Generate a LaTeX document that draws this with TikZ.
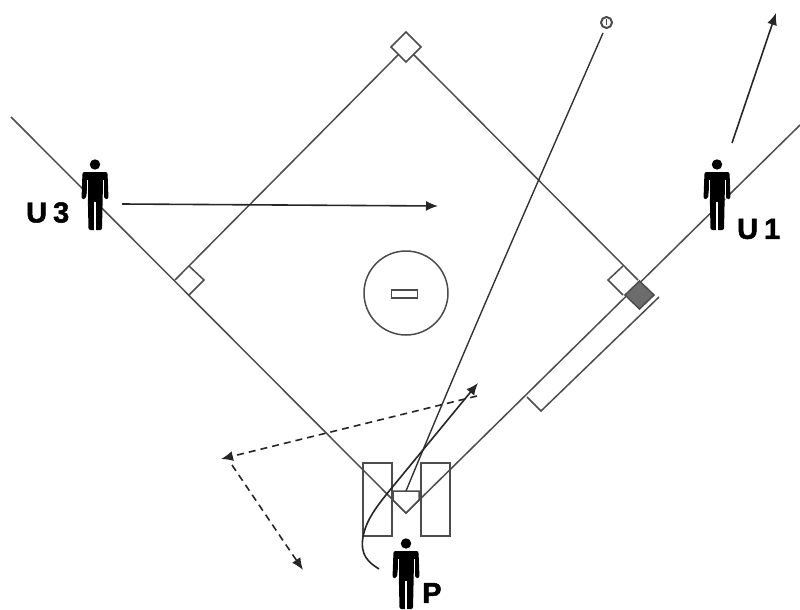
\documentclass[tikz,border=0pt]{standalone}
\usepackage{fontspec}
\setmainfont[BoldFeatures={FakeBold=1.6}]{Liberation Sans}
\usetikzlibrary{arrows.meta}
\definecolor{fieldc}{gray}{0.3}
\tikzset{
  fieldline/.style={draw=fieldc,line width=1.5pt},
  baseshape/.style={fieldline,fill=white,line join=miter},
  runarrow/.style={draw=black!85,line width=1.6pt,-{Latex[length=12pt,width=10pt]}},
  dasharrow/.style={runarrow,dash pattern=on 7pt off 5pt},
  balltrack/.style={draw=black!80,line width=1.4pt},
  lab/.style={inner sep=0pt,font=\fontsize{29}{29}\selectfont\bfseries},
  person/.pic={
    \fill[black] (0,4.5) circle (5.2);
    \fill[black,rounded corners=2pt] (-12.5,12) -- (12.5,12) -- (13.5,39) -- (9,39) -- (8,22) -- (7,70) -- (-6.5,70) -- (-7.5,22) -- (-9,39) -- (-13.5,39) -- cycle;
    \fill[white] (-0.8,42) rectangle (0.8,70.5);
    \draw[white,line width=0.7pt] (-8,20) -- (-8,39) (8,20) -- (8,39);
  }
}
\begin{document}
\begin{tikzpicture}[x=1pt,y=-1pt]
\useasboundingbox (0,0) rectangle (800,610);
\fill[white] (0,0) rectangle (800,610);
% key points
\coordinate (home) at (406,513);
\coordinate (lfend) at (11,117);
\coordinate (rfend) at (800,125);
\coordinate (secondL) at (398.5,54.5);
\coordinate (secondR) at (413.5,54.5);
\coordinate (firstE) at (638,280);
\coordinate (thirdW) at (175,280);
% diamond
\draw[fieldline] (lfend) -- (home) -- (rfend);
\draw[fieldline] (thirdW) -- (secondL);
\draw[fieldline] (secondR) -- (firstE);
% lane
\draw[fieldline] (527,397) -- (541,411) -- (659,297);
% bases
\draw[baseshape] (406,32) -- (421,47) -- (406,62) -- (391,47) -- cycle;
\draw[fieldline] (189,266) -- (204,280) -- (189,295);
\draw[fieldline] (623,266) -- (608,280) -- (623,295);
\draw[fieldline,fill=gray!85!black] (639.5,281) -- (654,295) -- (639.5,309) -- (625,295) -- cycle;
% mound
\node[draw=fieldc,line width=1.5pt,circle,minimum size=84pt,inner sep=0pt] (mound) at (406,293) {};
\node[draw=fieldc,line width=1.5pt,minimum width=26pt,minimum height=8pt,inner sep=0pt] (rubber) at (404.5,294) {};
% batter boxes
\node[draw=fieldc,line width=1.5pt,minimum width=29pt,minimum height=73pt,inner sep=0pt] (lbox) at (377.5,499.5) {};
\node[draw=fieldc,line width=1.5pt,minimum width=29pt,minimum height=73pt,inner sep=0pt] (rbox) at (435.5,499.5) {};
% home plate
\draw[baseshape,fill=white] (393,491) -- (419,491) -- (419,500) -- (406,513) -- (393,500) -- cycle;
% ball
\node[draw=fieldc,line width=2pt,circle,minimum size=11pt,inner sep=0pt] (ball) at (606.5,22.5) {};
\draw[fieldc,line width=1.2pt] (606.5,19.5) -- (606.5,25.5);
% ball track
\coordinate (fromhome) at (406,491);
\coordinate (balltip) at (603,33);
\draw[balltrack] (fromhome) .. controls (469,338) and (536,186) .. (balltip);
% batter swing
\coordinate (swingstart) at (379,569);
\coordinate (swingtip) at (478,383);
\draw[runarrow] (swingstart) .. controls (368,562) and (360,555) .. (363,537) .. controls (366,520) and (377,506) .. (390,490) -- (swingtip);
% dashed
\coordinate (d1) at (477,396);
\coordinate (d2) at (221,459);
\coordinate (d3) at (232,465);
\coordinate (d4) at (303,570);
\draw[dasharrow] (d1) -- (d2);
\draw[dasharrow] (d3) -- (d4);
% runner arrows
\coordinate (r1a) at (732,143);
\coordinate (r1b) at (776,13);
\coordinate (r3a) at (122,204);
\coordinate (r3b) at (438,206);
\draw[runarrow] (r1a) -- (r1b);
\draw[runarrow] (r3a) -- (r3b);
% people
\pic at (95,160) {person};
\pic at (717,160) {person};
\pic at (406,539) {person};
\node[lab,anchor=west] (u3) at (26,212.5) {U\kern6pt 3};
\node[lab,anchor=west] (u1) at (737,229) {U\kern6pt 1};
\node[lab,anchor=west] (pl) at (422,593) {P};
\end{tikzpicture}
\end{document}
